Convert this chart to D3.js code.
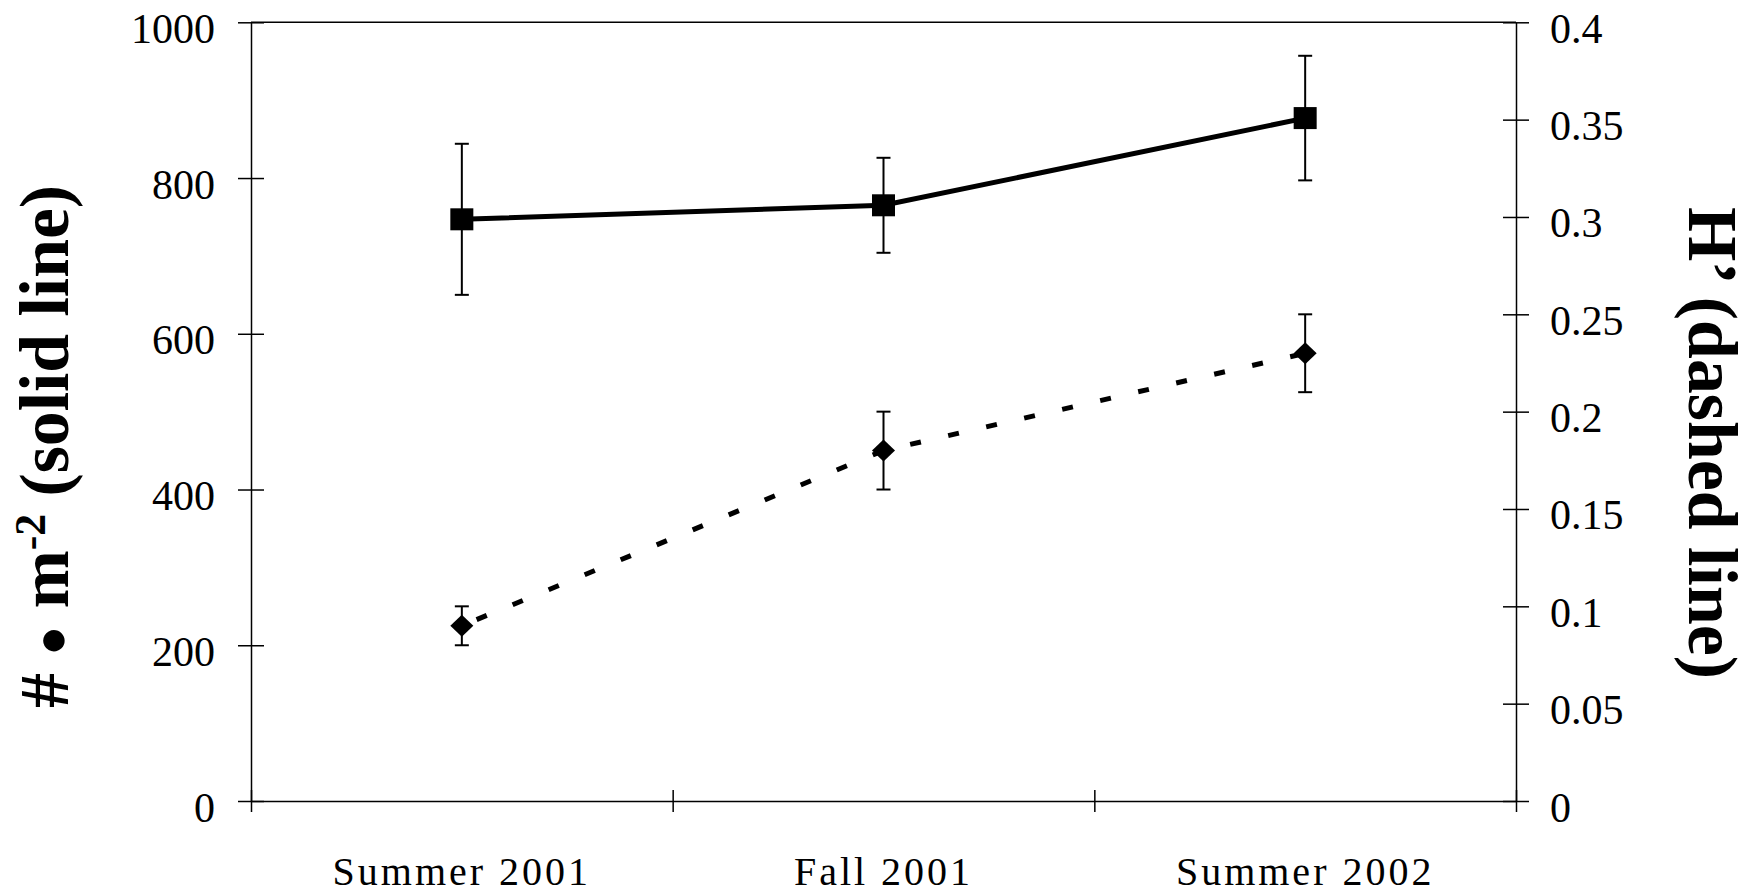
<!DOCTYPE html>
<html>
<head>
<meta charset="utf-8">
<script src="https://cdn.jsdelivr.net/npm/d3@7"></script>
<style>
  html, body { margin: 0; padding: 0; background: #fff; }
  svg { display: block; }
  text { font-family: "Liberation Serif", "Times New Roman", serif; fill: #000; }
</style>
</head>
<body>
<svg id="chart" width="1752" height="894"></svg>
<script>
// Sampling seasons
const categories = ["Summer 2001", "Fall 2001", "Summer 2002"];

// Density (# per m², solid line) with error bars
const density = [747, 765, 877];
const densityErr = [97, 61, 80];

// Shannon diversity H' (dashed line) with error bars
const diversity = [0.09, 0.18, 0.23];
const diversityErr = [0.01, 0.02, 0.02];

// Axis ticks
const densityTicks = [0, 200, 400, 600, 800, 1000];
const densityTickLabels = ["0", "200", "400", "600", "800", "1000"];
const diversityTicks = [0, 0.05, 0.1, 0.15, 0.2, 0.25, 0.3, 0.35, 0.4];
const diversityTickLabels = ["0", "0.05", "0.1", "0.15", "0.2", "0.25", "0.3", "0.35", "0.4"];

const svg = d3.select("#chart");
const plotLeft = 251, plotRight = 1516, plotTop = 22.3, plotBottom = 801;

const x = d3.scaleBand().domain(categories).range([plotLeft, plotRight]).padding(0);
const xEdge = d3.scaleLinear().domain([0, categories.length]).range([plotLeft, plotRight]);
const yL = d3.scaleLinear().domain([0, 1000]).range([plotBottom, plotTop]);
const yR = d3.scaleLinear().domain([0, 0.4]).range([plotBottom, plotTop]);

const tick = 13;

// Top frame line
svg.append("line")
  .attr("x1", plotLeft).attr("x2", plotRight).attr("y1", yL(1000)).attr("y2", yL(1000))
  .attr("stroke", "#000").attr("stroke-width", 1.5);

// Left axis
const gL = svg.append("g").attr("transform", `translate(${plotLeft},0)`)
  .call(d3.axisLeft(yL).tickValues(densityTicks)
    .tickFormat((d, i) => densityTickLabels[i])
    .tickSizeInner(tick).tickSizeOuter(0).tickPadding(23));
gL.selectAll(".tick line").attr("x1", tick).attr("x2", -tick);
gL.selectAll(".tick text").attr("dy", 20).style("font-size", "42px")
  .style("font-family", "'Liberation Serif', serif");

// Right axis
const gR = svg.append("g").attr("transform", `translate(${plotRight},0)`)
  .call(d3.axisRight(yR).tickValues(diversityTicks)
    .tickFormat((d, i) => diversityTickLabels[i])
    .tickSizeInner(tick).tickSizeOuter(0).tickPadding(21));
gR.selectAll(".tick line").attr("x1", -tick).attr("x2", tick);
gR.selectAll(".tick text").attr("dy", 20).style("font-size", "42px")
  .style("font-family", "'Liberation Serif', serif");

// Bottom axis: ticks at category boundaries
const gB = svg.append("g").attr("transform", `translate(0,${plotBottom})`)
  .call(d3.axisBottom(xEdge).tickValues(d3.range(categories.length + 1))
    .tickFormat("").tickSizeInner(11).tickSizeOuter(0));
gB.selectAll(".tick line").attr("y1", -11).attr("y2", 11);

// Category labels at band centres
const gC = svg.append("g").attr("transform", `translate(0,${plotBottom})`)
  .call(d3.axisBottom(x).tickSize(0));
gC.select(".domain").remove();
gC.selectAll(".tick text").attr("y", 84).attr("dy", 0)
  .style("font-size", "40px").style("letter-spacing", "3px")
  .style("font-family", "'Liberation Serif', serif");

[gL, gR, gB].forEach(g => g.selectAll("path, line").attr("stroke", "#000").attr("stroke-width", 1.5));

const cx = d => x(d) + x.bandwidth() / 2;

// Error bars
function errorBars(vals, errs, y) {
  const g = svg.append("g").attr("stroke", "#000").attr("stroke-width", 2);
  categories.forEach((c, i) => {
    const xc = cx(c);
    const y1 = y(vals[i] + errs[i]), y2 = y(vals[i] - errs[i]);
    g.append("line").attr("x1", xc).attr("x2", xc).attr("y1", y1).attr("y2", y2);
    g.append("line").attr("x1", xc - 7).attr("x2", xc + 7).attr("y1", y1).attr("y2", y1);
    g.append("line").attr("x1", xc - 7).attr("x2", xc + 7).attr("y1", y2).attr("y2", y2);
  });
}
errorBars(density, densityErr, yL);
errorBars(diversity, diversityErr, yR);

// Density line (solid) with square markers
svg.append("path")
  .datum(density)
  .attr("fill", "none").attr("stroke", "#000").attr("stroke-width", 5)
  .attr("d", d3.line().x((d, i) => cx(categories[i])).y(d => yL(d)));
svg.append("g").selectAll("rect").data(density).join("rect")
  .attr("x", (d, i) => cx(categories[i]) - 11.5)
  .attr("y", d => yL(d) - 11)
  .attr("width", 23).attr("height", 22).attr("fill", "#000");

// Diversity line (dashed) with diamond markers
svg.append("path")
  .datum(diversity)
  .attr("fill", "none").attr("stroke", "#000").attr("stroke-width", 5)
  .attr("stroke-dasharray", "11,28").attr("stroke-dashoffset", -16)
  .attr("d", d3.line().x((d, i) => cx(categories[i])).y(d => yR(d)));
svg.append("g").selectAll("path.diamond").data(diversity).join("path")
  .attr("class", "diamond")
  .attr("transform", (d, i) => `translate(${cx(categories[i])},${yR(d)})`)
  .attr("d", "M0,-11L11.5,0L0,11L-11.5,0Z").attr("fill", "#000");

// Axis titles
const tL = svg.append("text")
  .attr("transform", "translate(68,446.5) rotate(-90)")
  .attr("text-anchor", "middle")
  .style("font-weight", "bold").style("font-size", "70px");
tL.append("tspan").text("# ");
tL.append("tspan").style("font-size", "50px").text("●");
tL.append("tspan").text(" m");
tL.append("tspan").style("font-size", "44px").attr("dy", -23).text("-2");
tL.append("tspan").attr("dy", 23).text(" (solid line)");
tL.attr("textLength", 523).attr("lengthAdjust", "spacingAndGlyphs");

svg.append("text")
  .attr("transform", "translate(1689,443) rotate(90)")
  .attr("text-anchor", "middle")
  .style("font-weight", "bold").style("font-size", "70px")
  .attr("textLength", 472).attr("lengthAdjust", "spacingAndGlyphs")
  .text("H’ (dashed line)");
</script>
</body>
</html>
